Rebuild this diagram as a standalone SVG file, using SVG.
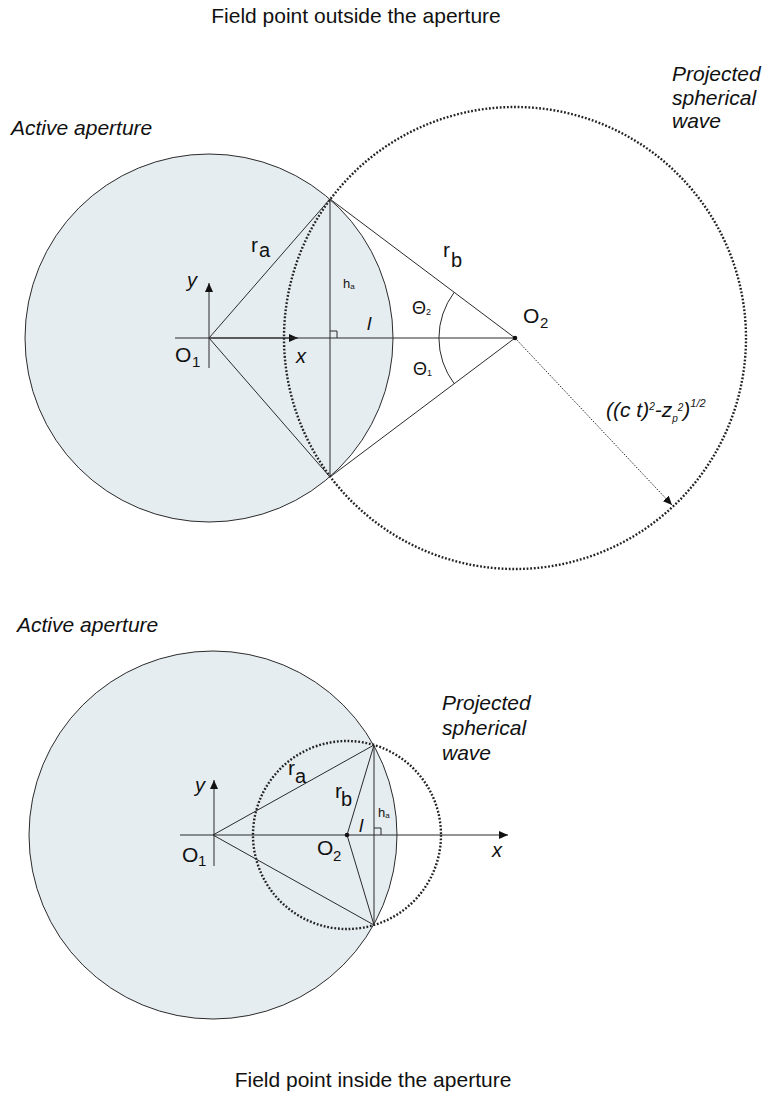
<svg xmlns="http://www.w3.org/2000/svg" width="765" height="1094" viewBox="0 0 765 1094">
<style>
  text { font-family: "Liberation Sans", Arial, sans-serif; fill: #111; }
  .it { font-style: italic; }
  .title { font-size: 21px; text-anchor: middle; }
  .lbl { font-size: 21px; }
  .aperture { fill: #E6EDF1; stroke: #2a2a2a; stroke-width: 1; }
  .wave { fill: none; stroke: #222; stroke-width: 2.4; stroke-dasharray: 1.8 1.8; }
  .ln { fill: none; stroke: #2a2a2a; stroke-width: 1; }
  .dash { fill: none; stroke: #222; stroke-width: 1; stroke-dasharray: 1.5 1.5; }
</style>
<defs>
  <marker id="arr" markerUnits="userSpaceOnUse" markerWidth="10" markerHeight="8" refX="9" refY="4" orient="auto">
    <path d="M0,0 L9,4 L0,8 Z" fill="#111"/>
  </marker>
</defs>

<!-- titles -->
<text class="title" x="356" y="23">Field point outside the aperture</text>
<text class="title" x="373" y="1087">Field point inside the aperture</text>

<!-- TOP DIAGRAM -->
<g id="aperture-top">
  <circle class="aperture" cx="209" cy="338" r="184"/>
  <text class="it lbl" x="11" y="135">Active aperture</text>
</g>
<g id="wave-top">
  <circle class="wave" cx="515" cy="338" r="231"/>
  <text class="it lbl" x="672" y="81">Projected</text>
  <text class="it lbl" x="672" y="105">spherical</text>
  <text class="it lbl" x="672" y="128">wave</text>
</g>
<g id="connectors-top">
  <line class="ln" x1="175" y1="338" x2="298" y2="338" marker-end="url(#arr)"/>
  <line class="ln" x1="209" y1="368" x2="209" y2="283" marker-end="url(#arr)"/>
  <line class="ln" x1="209" y1="338" x2="515" y2="338"/>
  <line class="ln" x1="209" y1="338" x2="330" y2="199"/>
  <line class="ln" x1="209" y1="338" x2="330" y2="477"/>
  <line class="ln" x1="330" y1="199" x2="330" y2="477"/>
  <path class="ln" d="M330,331 H337 V338"/>
  <line class="ln" x1="330" y1="199" x2="515" y2="338"/>
  <line class="ln" x1="330" y1="477" x2="515" y2="338"/>
  <path class="ln" d="M454.2,292.3 A76,76 0 0 0 454.2,383.7"/>
  <line class="dash" x1="515" y1="338" x2="672" y2="505" marker-end="url(#arr)"/>
</g>
<g id="O1-top">
  <text x="175" y="362" font-size="21">O</text>
  <text x="192" y="367" font-size="15">1</text>
  <text class="it" x="187" y="287" font-size="20">y</text>
  <text class="it" x="296" y="363" font-size="20">x</text>
</g>
<g id="O2-top">
  <circle cx="515" cy="338" r="2.3" fill="#111"/>
  <text x="523" y="323" font-size="21">O</text>
  <text x="540" y="328" font-size="15">2</text>
</g>
<g id="labels-top">
  <text x="251" y="252" font-size="21">r</text>
  <text x="259" y="257" font-size="20">a</text>
  <text x="443" y="257" font-size="21">r</text>
  <text x="451" y="267" font-size="20">b</text>
  <text x="343" y="288" font-size="13">h<tspan font-size="8" dy="1">a</tspan></text>
  <text class="it" x="367" y="330" font-size="19">l</text>
  <text x="412" y="314" font-size="18">Θ<tspan font-size="9" dy="1">2</tspan></text>
  <text x="413" y="375" font-size="18">Θ<tspan font-size="9" dy="1">1</tspan></text>
  <text class="it" x="606" y="417" font-size="21">((c t)<tspan font-size="10" dy="-7">2</tspan><tspan dy="7">-z</tspan><tspan font-size="10" dy="5">p</tspan><tspan font-size="10" dy="-11">2</tspan><tspan dy="6">)</tspan><tspan font-size="11" dy="-10">1/2</tspan></text>
</g>

<!-- BOTTOM DIAGRAM -->
<g id="aperture-bottom">
  <circle class="aperture" cx="213" cy="835" r="184"/>
  <text class="it lbl" x="17" y="632">Active aperture</text>
</g>
<g id="wave-bottom">
  <circle class="wave" cx="347" cy="835" r="94"/>
  <text class="it lbl" x="442" y="710">Projected</text>
  <text class="it lbl" x="442" y="735">spherical</text>
  <text class="it lbl" x="442" y="760">wave</text>
</g>
<g id="connectors-bottom">
  <line class="ln" x1="180" y1="835" x2="508" y2="835" marker-end="url(#arr)"/>
  <line class="ln" x1="214" y1="866" x2="214" y2="780" marker-end="url(#arr)"/>
  <line class="ln" x1="213" y1="835" x2="374" y2="745"/>
  <line class="ln" x1="213" y1="835" x2="374" y2="925"/>
  <line class="ln" x1="374" y1="745" x2="374" y2="925"/>
  <path class="ln" d="M374,828 H381 V835"/>
  <line class="ln" x1="347" y1="835" x2="374" y2="745"/>
  <line class="ln" x1="347" y1="835" x2="374" y2="925"/>
</g>
<g id="O1-bottom">
  <text x="182" y="862" font-size="21">O</text>
  <text x="198" y="866" font-size="15">1</text>
  <text class="it" x="195" y="792" font-size="20">y</text>
  <text class="it" x="492" y="857" font-size="20">x</text>
</g>
<g id="O2-bottom">
  <circle cx="347" cy="835" r="2.3" fill="#111"/>
  <text x="317" y="855" font-size="21">O</text>
  <text x="333" y="861" font-size="15">2</text>
</g>
<g id="labels-bottom">
  <text x="288" y="775" font-size="21">r</text>
  <text x="295" y="783" font-size="20">a</text>
  <text x="335" y="798" font-size="21">r</text>
  <text x="341" y="806" font-size="20">b</text>
  <text x="378" y="817" font-size="13">h<tspan font-size="8" dy="1">a</tspan></text>
  <text class="it" x="359" y="832" font-size="19">l</text>
</g>
</svg>
